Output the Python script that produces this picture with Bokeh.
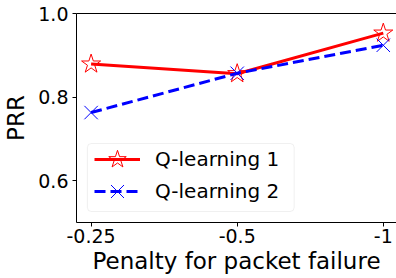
from bokeh.plotting import figure
from bokeh.models import Range1d, FixedTicker, LinearAxis, Legend, LegendItem, BoxAnnotation
from bokeh.embed import file_html
from bokeh.resources import INLINE

# data
penalties = ["-0.25", "-0.5", "-1"]
x_pos = [0, 1, 2]
q1 = [0.879, 0.856, 0.953]
q2 = [0.763, 0.857, 0.924]
y_ticks = [0.6, 0.8, 1.0]
y_tick_labels = ["0.6", "0.8", "1.0"]

FONT = "DejaVu Sans"
W, H = 396, 278
BL, BR, BT, BB = 74, 0, 13, 56
frame_w = W - BL - BR
frame_h = H - BT - BB
px_per_x = 147.0
x0 = -0.1
x1 = x0 + frame_w / px_per_x

p = figure(width=W, height=H, output_backend="svg", toolbar_location=None,
           x_range=Range1d(x0, x1), y_range=Range1d(0.5, 1.0),
           min_border_left=BL, min_border_right=BR, min_border_top=BT, min_border_bottom=BB)
p.outline_line_color = None
p.grid.visible = False
p.background_fill_color = "white"
p.border_fill_color = "white"

r1 = p.line(x_pos, q1, line_color="red", line_width=3)
m1 = p.scatter(x_pos, q1, marker="star", size=20, line_color="red", fill_alpha=0, line_width=1)
r2 = p.line(x_pos, q2, line_color="blue", line_width=3, line_dash="11 5")
m2 = p.scatter(x_pos, q2, marker="x", size=19, line_color="blue", line_width=1)

for ax in [p.xaxis[0], p.yaxis[0]]:
    ax.axis_line_color = "black"
    ax.axis_line_width = 1
    ax.major_tick_line_color = "black"
    ax.major_tick_in = 0
    ax.major_tick_out = 4
    ax.minor_tick_line_color = None
    ax.major_label_text_font = FONT
    ax.major_label_text_font_size = "19px"
    ax.major_label_text_color = "black"
    ax.axis_label_text_font = FONT
    ax.axis_label_text_font_size = "23px"
    ax.axis_label_text_font_style = "normal"
    ax.axis_label_text_color = "black"

p.xaxis.ticker = FixedTicker(ticks=x_pos)
p.xaxis.major_label_overrides = {x: lab for x, lab in zip(x_pos, penalties)}
p.xaxis.axis_label = "Penalty for packet failure"
p.xaxis.major_label_standoff = 2
p.xaxis.axis_label_standoff = 2

p.yaxis.ticker = FixedTicker(ticks=y_ticks)
p.yaxis.major_label_overrides = {t: lab for t, lab in zip(y_ticks, y_tick_labels)}
p.yaxis.axis_label = "PRR"
p.yaxis.major_label_standoff = 4
p.yaxis.axis_label_standoff = 6

top = LinearAxis(axis_line_color="black", major_tick_line_color=None,
                 minor_tick_line_color=None, major_label_text_font_size="0px",
                 ticker=FixedTicker(ticks=[]))
p.add_layout(top, "above")

# legend frame (screen-pixel layout converted to data units)
px_per_y = frame_h / 0.5
box = BoxAnnotation(left=x0 + 11 / px_per_x, right=x0 + 219 / px_per_x,
                    top=1.0 - 130 / px_per_y, bottom=1.0 - 198 / px_per_y,
                    fill_color="white", fill_alpha=0.8, line_color="#cccccc",
                    line_width=1, border_radius=4)
p.add_layout(box)


def make_legend(label, renderers, loc):
    lg = Legend(items=[LegendItem(label=label, renderers=renderers)], location=loc)
    lg.label_text_font = FONT
    lg.label_text_font_size = "20px"
    lg.label_text_color = "black"
    lg.border_line_color = None
    lg.background_fill_alpha = 0
    lg.glyph_width = 46
    lg.glyph_height = 48
    lg.label_height = 20
    lg.label_standoff = 15
    lg.padding = 0
    lg.margin = 0
    return lg


p.add_layout(make_legend("Q-learning 1", [r1, m1], (18, 39)), "center")
p.add_layout(make_legend("Q-learning 2", [r2, m2], (18, 7)), "center")

open("out.html", "w").write(file_html(p, INLINE))
